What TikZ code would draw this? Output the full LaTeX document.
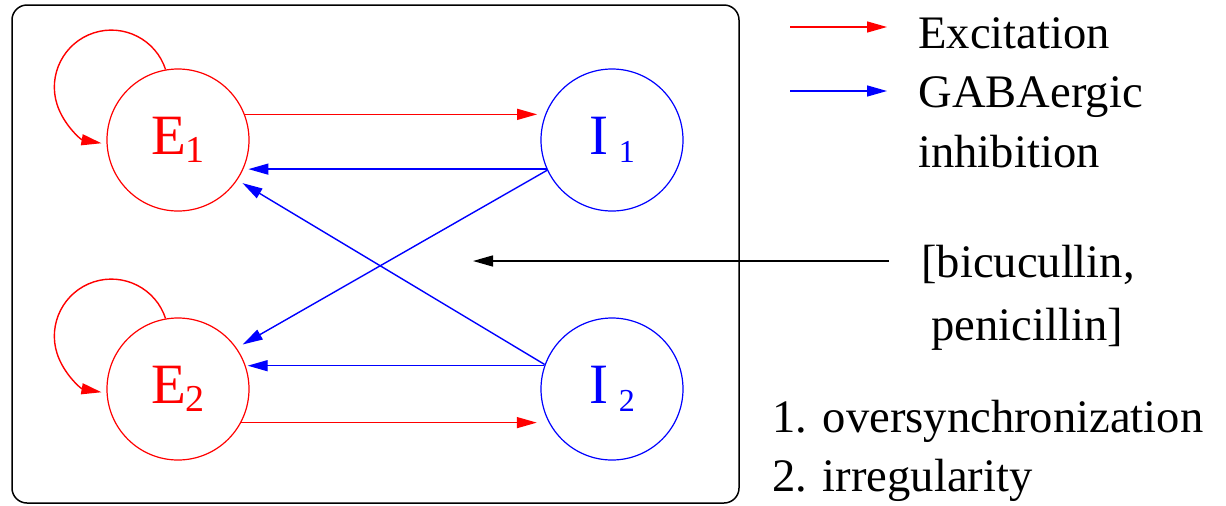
\documentclass[tikz,border=0pt]{standalone}
\usepackage{fontspec}
\setmainfont{Liberation Serif}
\usetikzlibrary{arrows.meta}
\definecolor{excred}{RGB}{255,0,0}
\definecolor{inhblue}{RGB}{0,0,255}
\begin{document}
\begin{tikzpicture}[x=0.5pt,y=-0.5pt,
  neuron/.style={circle, draw, line width=0.6pt, minimum size=71pt, inner sep=0pt},
  tip/.style={-{Triangle[length=10pt,width=5.5pt]}},
  exlink/.style={tip, draw=excred, line width=0.7pt},
  inlink/.style={tip, draw=inhblue, line width=0.7pt},
  blklink/.style={tip, draw=black, line width=0.7pt},
  txt/.style={font=\fontsize{23.3}{23.3}\selectfont, inner sep=0pt},
  frame/.style={draw, line width=0.75pt, rounded corners=7.5pt},
]
\useasboundingbox (0,0) rectangle (1226,505);
\draw[frame] (12,5) rectangle (739,503);

\newcommand{\elabel}[1]{{\fontsize{28.5}{28.5}\selectfont E}\raisebox{-4.25pt}{\fontsize{19}{19}\selectfont #1}}
\newcommand{\ilabel}[1]{{\fontsize{28.5}{28.5}\selectfont I}\hspace{5.5pt}\raisebox{-4.25pt}{\fontsize{16}{16}\selectfont #1}}

\node[neuron, draw=excred, text=excred] (E1) at (178,140) {\elabel{1}};
\node[neuron, draw=excred, text=excred] (E2) at (178,389) {\elabel{2}};
\node[neuron, draw=inhblue, text=inhblue] (I1) at (612,140) {\ilabel{1}};
\node[neuron, draw=inhblue, text=inhblue] (I2) at (612,389) {\ilabel{2}};

% self loops
\draw[exlink] (E1.100) arc[start angle=18, end angle=260, radius=28.5pt];
\draw[exlink] (E2.100) arc[start angle=18, end angle=260, radius=28.5pt];

% connections
\draw[exlink, shorten >=4pt] (E1.21) -- (I1.159);
\draw[inlink, shorten >=2.5pt] (I1.204) -- (E1.-24);
\draw[inlink, shorten >=3pt] (I2.160) -- (E1.-34);
\draw[inlink, shorten >=3.5pt] (I1.205) -- (E2.35);
\draw[inlink, shorten >=1pt] (I2.161) -- (E2.19);
\draw[exlink, shorten >=6pt] (E2.-28.6) -- (I2.208.6);

% legend
\coordinate (lr1) at (790,27);
\coordinate (lr2) at (887,27);
\coordinate (lb1) at (790,91);
\coordinate (lb2) at (887,91);
\draw[exlink] (lr1) -- (lr2);
\draw[inlink] (lb1) -- (lb2);
\node[txt, anchor=base west] (exc) at (918,48) {Excitation};
\node[txt, anchor=base west] (gaba) at (918,107) {GABAergic};
\node[txt, anchor=base west] (inh) at (918,167) {inhibition};

% drugs
\node[txt, anchor=base] (bic) at (1028,277) {[bicucullin,};
\node[txt, anchor=base] (pen) at (1027,340) {penicillin]};
\coordinate (bstart) at (889,261);
\coordinate (btip) at (473,261);
\draw[blklink] (bstart) -- (btip);

% outcomes
\node[txt, anchor=base west] (o1) at (772,432) {1. oversynchronization};
\node[txt, anchor=base west] (o2) at (772,491) {2. irregularity};
\end{tikzpicture}
\end{document}
